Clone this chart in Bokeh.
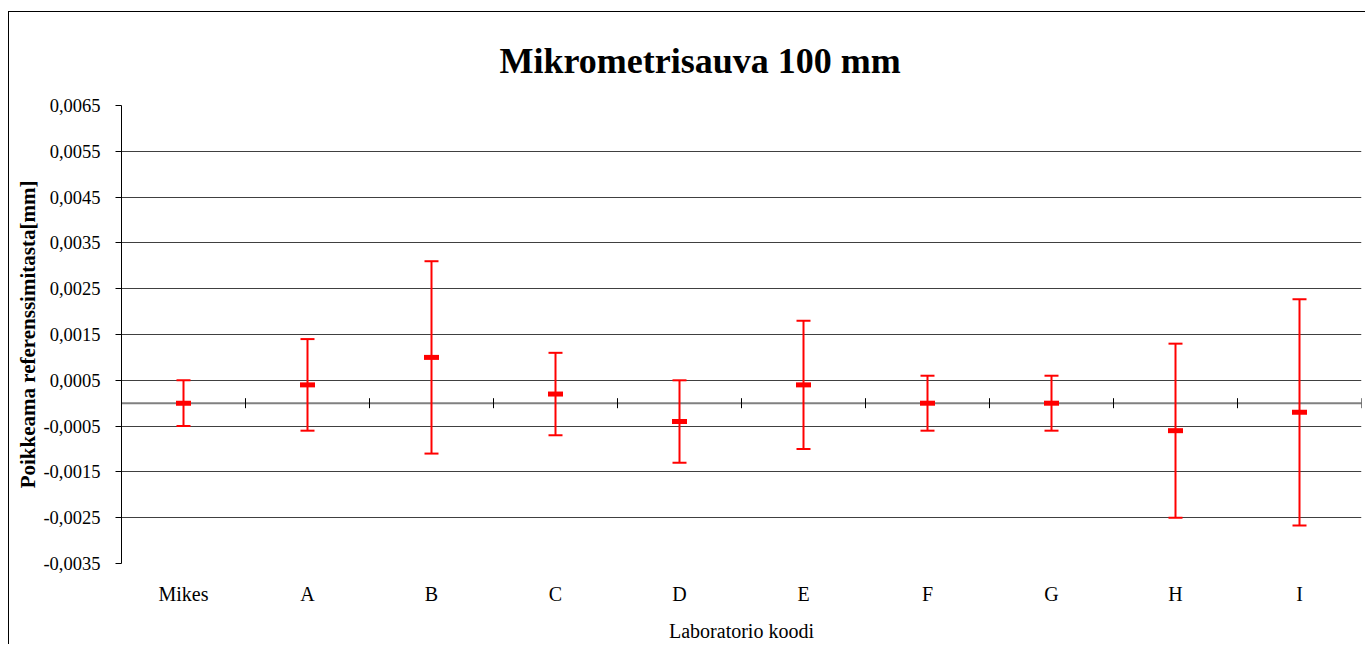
import math
from bokeh.plotting import figure
from bokeh.models import Range1d, FixedTicker, CustomJSTickFormatter, ColumnDataSource, Span
from bokeh.embed import file_html
from bokeh.resources import INLINE

categories = ["Mikes", "A", "B", "C", "D", "E", "F", "G", "H", "I"]
values = [0.0, 0.0004, 0.0010, 0.0002, -0.0004, 0.0004, 0.0, 0.0, -0.0006, -0.0002]
upper = [0.0005, 0.0014, 0.0031, 0.0011, 0.0005, 0.0018, 0.0006, 0.0006, 0.0013, 0.00227]
lower = [-0.0005, -0.0006, -0.0011, -0.0007, -0.0013, -0.0010, -0.0006, -0.0006, -0.0025, -0.00267]
y_ticks = [-0.0035, -0.0025, -0.0015, -0.0005, 0.0005, 0.0015, 0.0025, 0.0035, 0.0045, 0.0055, 0.0065]

FONT = "Liberation Serif"

n = len(categories)
xpos = [i + 0.5 for i in range(n)]          # category centres
boundaries = list(range(n + 1))              # category boundaries

src = ColumnDataSource(dict(x=xpos, value=values, upper=upper, lower=lower))
bsrc = ColumnDataSource(dict(x=boundaries, y=[0] * len(boundaries)))

p = figure(x_range=Range1d(0, n), y_range=Range1d(-0.0035, 0.0065),
           width=1357, height=633, output_backend="svg", toolbar_location=None,
           min_border_left=112, min_border_top=93, min_border_bottom=82, min_border_right=5,
           title="Mikrometrisauva 100 mm")
p.styles = {"border-left": "1px solid black", "border-top": "1px solid black",
            "margin-left": "8px", "margin-top": "11px"}
p.outline_line_color = None

p.title.align = "left"
p.title.text_font = FONT
p.title.text_font_size = "36px"
p.title.text_font_style = "bold"
p.title.text_color = "black"
p.title.standoff = 50
p.title.offset = 378

# grid
p.xgrid.grid_line_color = None
p.ygrid.ticker = FixedTicker(ticks=y_ticks)
p.ygrid.grid_line_color = "#404040"
p.ygrid.grid_line_width = 1

# y axis
p.yaxis.ticker = FixedTicker(ticks=y_ticks)
p.yaxis.formatter = CustomJSTickFormatter(code="return tick.toFixed(4).replace('.', ',');")
p.yaxis.axis_line_color = "black"
p.yaxis.major_tick_line_color = "black"
p.yaxis.major_tick_out = 6
p.yaxis.major_tick_in = 0
p.yaxis.minor_tick_line_color = None
p.yaxis.major_label_standoff = 15
p.yaxis.major_label_text_font = FONT
p.yaxis.major_label_text_font_size = "18.5px"
p.yaxis.major_label_text_color = "black"
p.yaxis.axis_label = "Poikkeama referenssimitasta[mm]"
p.yaxis.axis_label_text_font = FONT
p.yaxis.axis_label_text_font_size = "21px"
p.yaxis.axis_label_text_font_style = "bold"
p.yaxis.axis_label_text_color = "black"
p.yaxis.axis_label_standoff = 0

# x axis (category labels at bottom)
p.xaxis.ticker = FixedTicker(ticks=xpos)
p.xaxis.major_label_overrides = {x: c for x, c in zip(xpos, categories)}
p.xaxis.axis_line_color = None
p.xaxis.major_tick_line_color = None
p.xaxis.minor_tick_line_color = None
p.xaxis.major_label_standoff = 13
p.xaxis.major_label_text_font = FONT
p.xaxis.major_label_text_font_size = "20px"
p.xaxis.major_label_text_color = "black"
p.xaxis.axis_label = "Laboratorio koodi"
p.xaxis.axis_label_text_font = FONT
p.xaxis.axis_label_text_font_size = "20px"
p.xaxis.axis_label_text_font_style = "normal"
p.xaxis.axis_label_text_color = "black"
p.xaxis.axis_label_standoff = 12

# zero-crossing axis line with tick marks at category boundaries
p.add_layout(Span(location=0, dimension="width", line_color="#808080", line_width=2,
                  level="underlay"))
p.scatter(x="x", y="y", source=bsrc, marker="dash", angle=math.pi / 2, size=10,
          line_color="black", line_width=1)

# error bars
p.segment(x0="x", y0="lower", x1="x", y1="upper", source=src,
          line_color="#ff0000", line_width=2)
p.scatter(x="x", y="upper", source=src, marker="dash", size=14,
          line_color="#ff0000", line_width=2)
p.scatter(x="x", y="lower", source=src, marker="dash", size=14,
          line_color="#ff0000", line_width=2)
p.rect(x="x", y="value", width=15, height=5, width_units="screen", height_units="screen",
       source=src, fill_color="#ff0000", line_color=None)

open("out.html", "w").write(file_html(p, INLINE))
